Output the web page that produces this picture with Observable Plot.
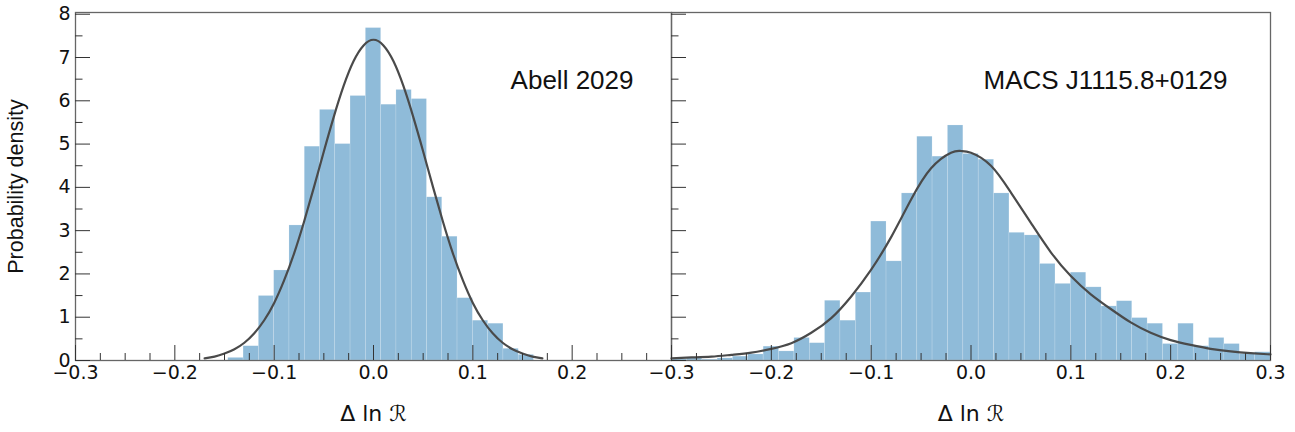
<!DOCTYPE html>
<html><head><meta charset="utf-8">
<script src="https://cdn.jsdelivr.net/npm/d3@7"></script>
<script src="https://cdn.jsdelivr.net/npm/@observablehq/plot@0.6"></script>
<style>
body{margin:0;background:#fff;}
#wrap{position:relative;width:1295px;height:432px;overflow:hidden;background:#fff;}
#wrap svg{position:absolute;top:0;}
</style></head><body><div id="wrap"></div>
<script>
// 39 equal bins over [-0.3, 0.3]
const binEdges = [-0.3, -0.2846, -0.2692, -0.2538, -0.2385, -0.2231, -0.2077, -0.1923, -0.1769, -0.1615,
  -0.1462, -0.1308, -0.1154, -0.1, -0.0846, -0.0692, -0.0538, -0.0385, -0.0231, -0.0077,
  0.0077, 0.0231, 0.0385, 0.0538, 0.0692, 0.0846, 0.1, 0.1154, 0.1308, 0.1462,
  0.1615, 0.1769, 0.1923, 0.2077, 0.2231, 0.2385, 0.2538, 0.2692, 0.2846, 0.3];

const abellDensity = [0, 0, 0, 0, 0, 0, 0, 0, 0, 0,
  0.06, 0.33, 1.49, 2.08, 3.12, 4.94, 5.79, 5.0, 6.11, 7.68,
  5.91, 6.25, 6.04, 3.77, 2.86, 1.44, 0.92, 0.85, 0.27, 0.13,
  0, 0, 0, 0, 0, 0, 0, 0, 0];

const macsDensity = [0.03, 0.05, 0.02, 0.05, 0.09, 0.14, 0.32, 0.21, 0.52, 0.40,
  1.38, 0.92, 1.57, 3.21, 2.29, 3.86, 5.17, 4.71, 5.43, 4.77,
  4.64, 3.86, 2.95, 2.89, 2.23, 1.77, 2.03, 1.69, 1.25, 1.37,
  0.98, 0.85, 0.38, 0.85, 0.33, 0.52, 0.38, 0.15, 0.19];

const abellFitX = [-0.17, -0.16, -0.15, -0.14, -0.13, -0.12, -0.11, -0.10, -0.09, -0.08, -0.07, -0.06,
  -0.05, -0.04, -0.03, -0.02, -0.01, 0, 0.01, 0.02, 0.03, 0.04, 0.05, 0.06, 0.07, 0.08, 0.09, 0.10,
  0.11, 0.12, 0.13, 0.14, 0.15, 0.16, 0.17];
const abellFitY = [0.05, 0.09, 0.16, 0.26, 0.41, 0.63, 0.93, 1.33, 1.85, 2.47, 3.20, 4.00,
  4.83, 5.63, 6.35, 6.92, 7.28, 7.41, 7.28, 6.92, 6.35, 5.63, 4.83, 4.00, 3.20, 2.47, 1.85, 1.33,
  0.93, 0.63, 0.41, 0.26, 0.16, 0.09, 0.05];

const macsFitX = [-0.30, -0.28, -0.26, -0.24, -0.22, -0.20, -0.18, -0.16, -0.14, -0.12, -0.10, -0.08,
  -0.06, -0.04, -0.02, -0.01, 0.00, 0.02, 0.04, 0.06, 0.08, 0.10, 0.12, 0.14, 0.16, 0.18, 0.20,
  0.22, 0.24, 0.26, 0.28, 0.30];
const macsFitY = [0.05, 0.07, 0.09, 0.13, 0.18, 0.27, 0.40, 0.64, 0.98, 1.48, 2.10, 2.85,
  3.72, 4.44, 4.80, 4.84, 4.80, 4.50, 3.88, 3.18, 2.50, 1.95, 1.53, 1.19, 0.88, 0.64, 0.47,
  0.36, 0.27, 0.21, 0.17, 0.14];

const xMajorTicks = [-0.3, -0.2, -0.1, 0, 0.1, 0.2, 0.3];
const xMinorTicks = [-0.275, -0.25, -0.225, -0.175, -0.15, -0.125, -0.075, -0.05, -0.025,
  0.025, 0.05, 0.075, 0.125, 0.15, 0.175, 0.225, 0.25, 0.275];
const yMajorTicks = [0, 1, 2, 3, 4, 5, 6, 7, 8];
const yMinorTicks = [0.5, 1.5, 2.5, 3.5, 4.5, 5.5, 6.5, 7.5];
const panelNames = ["Abell 2029", "MACS J1115.8+0129"];
const xLabel = "Δ ln ℛ";
const yLabel = "Probability density";

const barColor = "#8fbbd9";
const fitColor = "#4a4a4a";
const tickFont = "DejaVu Sans";
const textFont = "Liberation Sans";

function bins(values) {
  return values.map((v, i) => ({x1: binEdges[i], x2: binEdges[i + 1], y: v}));
}
function fit(xs, ys) { return xs.map((x, i) => ({x, y: ys[i]})); }

function panel({width, marginLeft, marginRight, density, fx, fy, name, nameDx, xLabels, showY}) {
  return Plot.plot({
    width, height: 432,
    marginLeft, marginRight, marginTop: 12, marginBottom: 72,
    style: {background: "transparent", overflow: "visible"},
    x: {domain: [-0.3, 0.3]},
    y: {domain: [0, 8.04]},
    marks: [
      Plot.rectY(bins(density).filter(d => d.y > 0), {x1: "x1", x2: "x2", y: "y", fill: barColor, stroke: "#ffffff", strokeOpacity: 0.25, strokeWidth: 0.6}),
      Plot.line(fit(fx, fy), {x: "x", y: "y", stroke: fitColor, strokeWidth: 2.2, curve: "natural"}),
      Plot.frame({stroke: "#666", strokeWidth: 1.3}),
      Plot.axisX(xMinorTicks, {tickSize: -7, fill: "none", stroke: "#333"}),
      Plot.axisX(xMajorTicks, {tickSize: -15, stroke: "#333", fill: "none"}),
      Plot.axisX(xLabels, {tickSize: 0, tickPadding: 5, tickFormat: d3.format(".1f"), fontSize: 19, fontFamily: tickFont, fill: "#111", label: null}),
      Plot.axisX([], {tickSize: 0, label: xLabel, labelAnchor: "center", labelArrow: "none", labelOffset: 60, fontSize: 22, fontFamily: tickFont, fill: "#111"}),
      Plot.axisY(yMinorTicks, {tickSize: -7.5, fill: "none", stroke: "#333"}),
      Plot.axisY(yMajorTicks, {tickSize: -15, stroke: "#333", fill: "none"}),
      showY ? Plot.axisY(yMajorTicks, {tickSize: 0, tickPadding: 5, fontSize: 19, fontFamily: tickFont, fill: "#111", label: null}) : null,
      showY ? Plot.axisY([], {tickSize: 0, label: yLabel, labelAnchor: "center", labelArrow: "none", labelOffset: 68, fontSize: 21.5, fontFamily: textFont, fill: "#111"}) : null,
      Plot.text([name], {text: d => d, frameAnchor: "top-right", textAnchor: "end", lineAnchor: "bottom", dx: nameDx, dy: 76, fontSize: 26, fontFamily: textFont, fill: "#111"})
    ]
  });
}

const wrap = document.getElementById("wrap");
const left = panel({width: 672, marginLeft: 75, marginRight: 1, density: abellDensity, fx: abellFitX, fy: abellFitY,
  name: panelNames[0], nameDx: -38, xLabels: xMajorTicks.slice(0, 6), showY: true});
left.style.left = "0px";
const right = panel({width: 624, marginLeft: 0, marginRight: 25, density: macsDensity, fx: macsFitX, fy: macsFitY,
  name: panelNames[1], nameDx: -43, xLabels: xMajorTicks, showY: false});
right.style.left = "671px";
wrap.appendChild(left);
wrap.appendChild(right);
</script></body></html>
